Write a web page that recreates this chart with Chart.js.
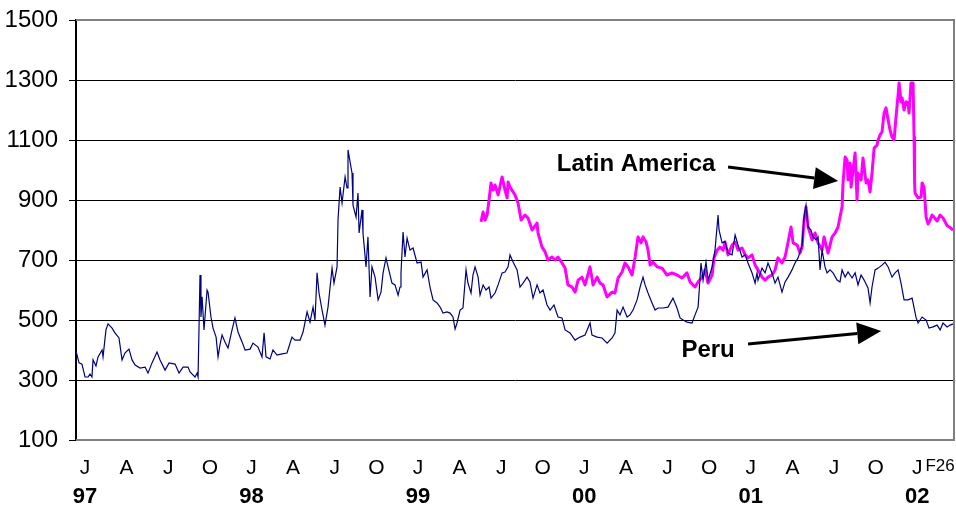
<!DOCTYPE html>
<html>
<head>
<meta charset="utf-8">
<script src="https://cdn.jsdelivr.net/npm/chart.js@4.4.1/dist/chart.umd.min.js"></script>
<style>
  html, body { margin: 0; padding: 0; background: #fff; }
  #wrap { width: 956px; height: 509px; }
</style>
</head>
<body>
<div id="wrap"><canvas id="chart" width="956" height="509"></canvas></div>
<script>
// eixo x em meses desde jan/1997 (0 = J 97)
const monthTicks = [0, 3, 6, 9, 12, 15, 18, 21, 24, 27, 30, 33, 36, 39, 42, 45, 48, 51, 54, 57, 60, 61.65];
const monthLabels = ['J', 'A', 'J', 'O', 'J', 'A', 'J', 'O', 'J', 'A', 'J', 'O', 'J', 'A', 'J', 'O', 'J', 'A', 'J', 'O', 'J', 'F26'];
const yearTicks = [0, 12, 24, 36, 48, 60];
const yearLabels = ['97', '98', '99', '00', '01', '02'];
const yTicks = [100, 300, 500, 700, 900, 1100, 1300, 1500];

// Peru
const peruMonth = [
  -0.65, -0.43, -0.22, 0, 0.22, 0.36, 0.5, 0.58, 0.79, 0.94, 1.23, 1.3, 1.51, 1.66, 1.95, 2.16, 2.45, 2.67, 2.88,
  3.17, 3.39, 3.61, 3.97, 4.33, 4.54, 4.83, 5.19, 5.41, 5.77, 6.06, 6.49, 6.78, 7.07, 7.43, 7.57, 7.93, 8.08, 8.15,
  8.22, 8.29, 8.36, 8.44, 8.58, 8.8, 8.87, 9.08, 9.23, 9.45, 9.59, 9.73, 9.88, 10.09, 10.31, 10.6, 10.81, 11.03,
  11.32, 11.54, 11.9, 12.11, 12.47, 12.76, 12.91, 13.05, 13.34, 13.55, 13.84, 14.2, 14.56, 14.92, 15.14, 15.5,
  15.72, 16.01, 16.22, 16.44, 16.58, 16.73, 16.87, 17.09, 17.3, 17.52, 17.81, 17.95, 18.17, 18.24, 18.39, 18.53,
  18.75, 18.89, 18.96, 19.25, 19.32, 19.54, 19.68, 19.76, 19.97, 20.04, 20.26, 20.4, 20.55, 20.69, 20.91, 21.13,
  21.34, 21.49, 21.7, 21.85, 22.13, 22.35, 22.57, 22.71, 22.78, 22.93, 23.07, 23.22, 23.43, 23.65, 23.94, 24.23,
  24.37, 24.66, 24.87, 25.09, 25.38, 25.6, 25.81, 26.1, 26.32, 26.53, 26.68, 26.82, 27.04, 27.25, 27.47, 27.61,
  27.83, 27.97, 28.12, 28.34, 28.48, 28.7, 28.91, 29.13, 29.27, 29.56, 29.78, 30.07, 30.28, 30.5, 30.64, 30.86,
  31.15, 31.36, 31.58, 31.87, 32.08, 32.3, 32.59, 32.8, 33.02, 33.31, 33.53, 33.81, 34.1, 34.39, 34.61, 34.97,
  35.33, 35.69, 36.05, 36.41, 36.55, 36.92, 37.28, 37.64, 38, 38.21, 38.36, 38.57, 38.79, 39.08, 39.29, 39.51,
  39.8, 40.02, 40.23, 40.38, 40.59, 40.88, 41.1, 41.31, 41.67, 42.03, 42.39, 42.68, 42.9, 43.12, 43.4, 43.76,
  43.98, 44.2, 44.41, 44.56, 44.77, 44.92, 45.21, 45.42, 45.64, 45.71, 45.93, 46.14, 46.36, 46.65, 46.87, 47.08,
  47.37, 47.59, 47.8, 48.09, 48.31, 48.45, 48.52, 48.81, 49.03, 49.24, 49.53, 49.75, 49.96, 50.25, 50.47, 50.69,
  50.97, 51.19, 51.41, 51.7, 51.84, 51.98, 52.13, 52.34, 52.49, 52.7, 52.85, 52.99, 53.14, 53.35, 53.5, 53.71,
  53.93, 54.22, 54.43, 54.58, 54.8, 55.01, 55.3, 55.52, 55.73, 55.95, 56.17, 56.45, 56.6, 56.74, 56.96, 57.18,
  57.46, 57.68, 57.9, 58.18, 58.4, 58.62, 58.83, 59.05, 59.34, 59.63, 59.92, 60.06, 60.35, 60.64, 60.85, 61.14,
  61.43, 61.65, 61.86, 62.15, 62.37, 62.58
];
const peruSpread = [
  397, 357, 353, 310, 310, 320, 310, 367, 347, 377, 400, 377, 467, 487, 473, 457, 440, 367, 390,
  403, 367, 350, 340, 343, 323, 357, 393, 367, 333, 357, 353, 323, 343, 343, 327, 310, 323, 310,
  477, 650, 510, 577, 467, 600, 593, 510, 473, 443, 377, 417, 450, 427, 407, 467, 507, 460,
  427, 400, 403, 423, 410, 377, 457, 377, 370, 400, 383, 387, 390, 443, 433, 433,
  460, 527, 493, 543, 500, 657, 590, 533, 483, 543, 673, 623, 677, 833, 943, 890,
  977, 940, 1067, 990, 883, 843, 923, 790, 867, 790, 677, 777, 577, 677, 643, 567,
  593, 657, 707, 677, 623, 617, 583, 610, 657, 793, 710, 773, 733, 740, 690, 693,
  643, 667, 610, 567, 557, 543, 523, 527, 523, 510, 470, 490, 533, 540, 667, 623,
  590, 650, 677, 643, 583, 617, 600, 610, 573, 590, 617, 657, 660, 677, 717, 693,
  667, 610, 623, 643, 627, 573, 617, 590, 600, 550, 533, 550, 510, 507, 467, 457,
  433, 443, 450, 490, 450, 443, 440, 423, 440, 457, 533, 517, 543, 510, 517, 533,
  567, 610, 643, 617, 590, 557, 533, 540, 540, 543, 573, 540, 507, 500, 493, 490,
  517, 543, 690, 633, 693, 633, 677, 733, 850, 800, 757, 762, 723, 717, 783, 750,
  710, 717, 690, 657, 623, 657, 633, 673, 657, 690, 657, 623, 643, 593, 627, 643,
  667, 690, 707, 750, 843, 883, 810, 800, 777, 767, 777, 667, 733, 677, 657, 667,
  657, 633, 627, 667, 643, 660, 640, 657, 617, 650, 633, 607, 557, 610, 667, 673,
  683, 693, 677, 643, 657, 667, 623, 567, 567, 573, 507, 490, 510, 500, 473, 477,
  483, 467, 490, 477, 483, 487
];

// Latin America
const latamMonth = [
  28.55, 28.7, 28.84, 28.99, 29.13, 29.27, 29.42, 29.56, 29.78, 30.07, 30.28, 30.43, 30.5, 30.64, 31, 31.22,
  31.44, 31.72, 31.94, 32.23, 32.59, 32.66, 32.95, 33.17, 33.38, 33.67, 33.89, 34.1, 34.39, 34.61, 34.82, 35.11,
  35.33, 35.55, 35.83, 36.05, 36.41, 36.63, 36.92, 37.13, 37.35, 37.64, 38, 38.21, 38.43, 38.72, 38.93, 39.15,
  39.44, 39.66, 39.87, 40.09, 40.23, 40.45, 40.59, 40.74, 40.95, 41.24, 41.6, 41.96, 42.32, 42.68, 43.04, 43.4,
  43.62, 43.98, 44.2, 44.49, 44.7, 44.92, 45.21, 45.35, 45.57, 45.78, 46, 46.14, 46.36, 46.65, 46.87, 47.08,
  47.37, 47.59, 47.8, 48.09, 48.31, 48.52, 48.81, 49.03, 49.24, 49.53, 49.75, 49.96, 50.25, 50.47, 50.69, 50.9,
  51.05, 51.34, 51.55, 51.7, 51.84, 51.98, 52.13, 52.42, 52.63, 52.85, 53.14, 53.28, 53.57, 53.86, 54.08, 54.29,
  54.43, 54.58, 54.65, 54.8, 54.94, 55.01, 55.16, 55.23, 55.37, 55.52, 55.66, 55.73, 55.95, 56.09, 56.31, 56.45,
  56.6, 56.74, 56.89, 57.1, 57.18, 57.32, 57.46, 57.61, 57.75, 57.9, 58.04, 58.18, 58.33, 58.47, 58.62, 58.69,
  58.83, 58.91, 59.05, 59.19, 59.34, 59.41, 59.55, 59.7, 59.77, 59.81, 59.84, 60.06, 60.28, 60.35, 60.49, 60.64,
  60.78, 60.93, 61.07, 61.21, 61.43, 61.65, 61.86, 62.15, 62.37, 62.58
];
const latamSpread = [
  827, 860, 833, 850, 900, 957, 933, 950, 917, 977, 933, 907, 960, 943, 917, 890,
  833, 850, 840, 800, 823, 790, 743, 727, 700, 710, 700, 710, 690, 673, 617, 610,
  593, 633, 643, 617, 677, 617, 643, 623, 617, 577, 593, 590, 640, 660, 690, 677,
  650, 710, 777, 757, 777, 760, 733, 683, 693, 677, 673, 650, 657, 650, 640, 657,
  627, 610, 627, 643, 667, 623, 650, 707, 733, 743, 733, 760, 717, 750, 760, 733,
  740, 717, 707, 717, 683, 667, 643, 633, 643, 650, 667, 707, 690, 710, 760, 810,
  757, 750, 723, 743, 833, 877, 810, 767, 790, 757, 733, 777, 723, 777, 790, 810,
  843, 877, 957, 1043, 1033, 967, 1023, 943, 1000, 1057, 900, 990, 967, 1040, 957, 967,
  927, 990, 1073, 1083, 1100, 1117, 1127, 1190, 1207, 1167, 1133, 1110, 1100, 1177, 1250, 1290,
  1227, 1240, 1200, 1227, 1223, 1190, 1290, 1290, 1110, 957, 923, 907, 910, 957, 943, 843,
  820, 833, 850, 843, 830, 850, 840, 815, 808, 800
];

const xMin = -0.65;
const xMax = 62.65;

const textFont = "'Liberation Sans', Arial, sans-serif";
const narrowFont = "'Liberation Sans Narrow', 'Arial Narrow', 'Liberation Sans', Arial, sans-serif";

// setas e textos das séries (em coordenadas de dados)
const notes = [
  { text: 'Latin America', tx: 39.73, ty: 1020, from: [46.36, 1010], to: [54.3, 963] },
  { text: 'Peru', tx: 44.92, ty: 400, from: [47.8, 420], to: [57.4, 463] }
];

function drawArrow(ctx, x1, y1, x2, y2) {
  const ang = Math.atan2(y2 - y1, x2 - x1);
  const head = 24, half = 11;
  const bx = x2 - head * Math.cos(ang), by = y2 - head * Math.sin(ang);
  ctx.beginPath();
  ctx.moveTo(x1, y1);
  ctx.lineTo(bx, by);
  ctx.lineWidth = 3;
  ctx.strokeStyle = '#000';
  ctx.stroke();
  ctx.beginPath();
  ctx.moveTo(x2, y2);
  ctx.lineTo(bx + half * Math.sin(ang), by - half * Math.cos(ang));
  ctx.lineTo(bx - half * Math.sin(ang), by + half * Math.cos(ang));
  ctx.closePath();
  ctx.fillStyle = '#000';
  ctx.fill();
}

// sem folga extra nas bordas por causa dos rótulos
function noSidePadding(axis) {
  axis.paddingLeft = 0;
  axis.paddingRight = 0;
  axis.paddingTop = 0;
  axis.paddingBottom = 0;
}

const framePlugin = {
  id: 'frame',
  beforeDatasetsDraw(chart) {
    const { ctx, chartArea: a } = chart;
    ctx.save();
    ctx.strokeStyle = '#808080';
    ctx.lineWidth = 2;
    ctx.beginPath();
    ctx.moveTo(a.left, a.top);
    ctx.lineTo(a.right, a.top);
    ctx.lineTo(a.right, a.bottom);
    ctx.lineTo(a.left, a.bottom);
    ctx.stroke();
    ctx.restore();
  },
  afterDraw(chart) {
    const { ctx } = chart;
    const sx = chart.scales.x, sy = chart.scales.y;
    ctx.save();
    notes.forEach(n => {
      ctx.font = 'bold 24px ' + textFont;
      ctx.fillStyle = '#000';
      ctx.textAlign = 'center';
      ctx.textBaseline = 'middle';
      ctx.fillText(n.text, sx.getPixelForValue(n.tx), sy.getPixelForValue(n.ty));
      drawArrow(ctx,
        sx.getPixelForValue(n.from[0]), sy.getPixelForValue(n.from[1]),
        sx.getPixelForValue(n.to[0]), sy.getPixelForValue(n.to[1]));
    });
    ctx.restore();
  }
};

const ctx = document.getElementById('chart').getContext('2d');
new Chart(ctx, {
  type: 'line',
  data: {
    datasets: [
      {
        label: 'Peru',
        data: peruMonth.map((m, i) => ({ x: m, y: peruSpread[i] })),
        borderColor: '#000080',
        borderWidth: 1.2,
        pointRadius: 0,
        tension: 0,
        fill: false
      },
      {
        label: 'Latin America',
        data: latamMonth.map((m, i) => ({ x: m, y: latamSpread[i] })),
        borderColor: '#FF00FF',
        borderWidth: 3,
        borderJoinStyle: 'round',
        pointRadius: 0,
        tension: 0,
        fill: false
      }
    ]
  },
  options: {
    responsive: false,
    animation: false,
    devicePixelRatio: 1,
    layout: { padding: { left: 0, right: 2, top: 20, bottom: 1 } },
    plugins: {
      legend: { display: false },
      tooltip: { enabled: false }
    },
    scales: {
      x: {
        type: 'linear',
        position: 'bottom',
        weight: 0,
        min: xMin,
        max: xMax,
        afterBuildTicks: axis => { axis.ticks = monthTicks.map(v => ({ value: v })); },
        afterFit: axis => { axis.height = 44; noSidePadding(axis); },
        grid: { display: false, drawTicks: false },
        border: { display: false },
        ticks: {
          autoSkip: false,
          maxRotation: 0,
          minRotation: 0,
          padding: 16,
          color: '#000',
          // o último rótulo (F26) é mais estreito para caber no canto
          font: c => ({ family: narrowFont, size: c.index === monthTicks.length - 1 ? 17 : 21, lineHeight: 1.2 }),
          callback: (value, index) => monthLabels[index]
        }
      },
      x2: {
        type: 'linear',
        position: 'bottom',
        weight: 1,
        min: xMin,
        max: xMax,
        afterBuildTicks: axis => { axis.ticks = yearTicks.map(v => ({ value: v })); },
        afterFit: axis => { axis.height = 24; noSidePadding(axis); },
        grid: { display: false, drawTicks: false },
        border: { display: false },
        ticks: {
          autoSkip: false,
          maxRotation: 0,
          minRotation: 0,
          padding: 2,
          color: '#000',
          font: { family: narrowFont, size: 22, weight: 'bold', lineHeight: 1 },
          callback: (value, index) => yearLabels[index]
        }
      },
      y: {
        min: 100,
        max: 1500,
        afterBuildTicks: axis => { axis.ticks = yTicks.map(v => ({ value: v })); },
        afterFit: axis => { axis.width = 76; noSidePadding(axis); },
        grid: { color: '#000', lineWidth: 1, drawTicks: true, tickLength: 7, tickColor: '#000' },
        border: { display: true, color: '#000', width: 2 },
        ticks: {
          padding: 11,
          color: '#000',
          font: { family: textFont, size: 24 },
          callback: value => String(value)
        }
      }
    }
  },
  plugins: [framePlugin]
});
</script>
</body>
</html>
